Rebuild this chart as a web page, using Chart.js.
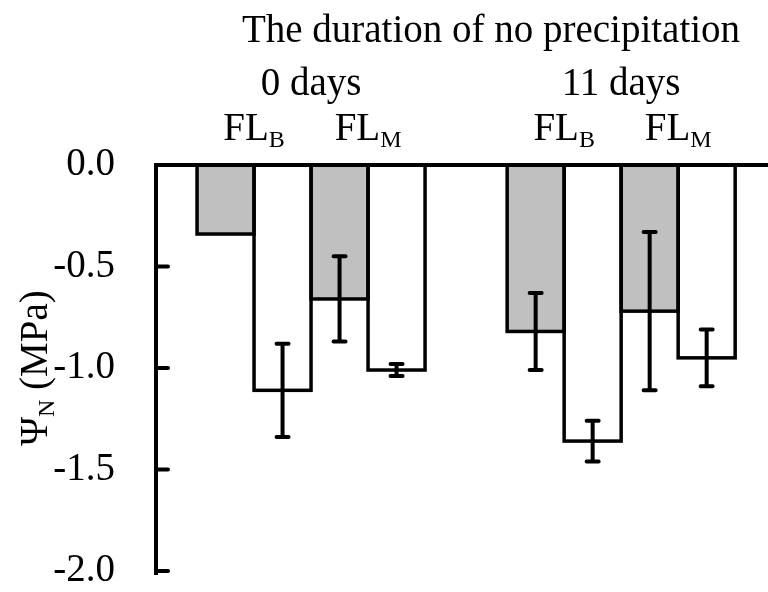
<!DOCTYPE html>
<html>
<head>
<meta charset="utf-8">
<script src="https://cdn.jsdelivr.net/npm/chart.js@4.4.0/dist/chart.umd.min.js"></script>
<style>
  html, body { margin: 0; padding: 0; background: #fff; }
  #chart { display: block; }
</style>
</head>
<body>
<canvas id="chart" width="768" height="592"></canvas>
<script>
// values (MPa)
const title = 'The duration of no precipitation';
const groups = ['0 days', '11 days'];
const treatments = ['B', 'M']; // FL_B, FL_M
const grayValues = [-0.34, -0.66, -0.82, -0.72];
const grayErrors = [0, 0.21, 0.19, 0.39];
const whiteValues = [-1.11, -1.01, -1.36, -0.95];
const whiteErrors = [0.23, 0.03, 0.10, 0.14];
const yTicks = [0, -0.5, -1.0, -1.5, -2.0];

const FONT = '"Liberation Serif", "Times New Roman", serif';
const groupPitch = 2.72; // distance between groups, in pair widths

// x position of each treatment pair
const positions = groups.flatMap((g, gi) => treatments.map((t, ti) => gi * groupPitch + ti));

const toPoints = values => values.map((v, i) => ({ x: positions[i], y: v }));

// text with a subscript, drawn from x (left aligned)
const subWidth = (ctx, main, sub) => {
  ctx.font = `39px ${FONT}`;
  const w1 = ctx.measureText(main).width;
  ctx.font = `24px ${FONT}`;
  return w1 + ctx.measureText(sub).width;
};
const drawSub = (ctx, main, sub, rest, x, y) => {
  ctx.font = `39px ${FONT}`;
  ctx.fillText(main, x, y);
  x += ctx.measureText(main).width;
  ctx.font = `24px ${FONT}`;
  ctx.fillText(sub, x, y + 7);
  x += ctx.measureText(sub).width;
  if (rest) {
    ctx.font = `39px ${FONT}`;
    ctx.fillText(rest, x, y);
  }
};

const decorations = {
  id: 'decorations',
  afterDatasetsDraw(chart) {
    const ctx = chart.ctx;
    const yScale = chart.scales.y;
    const errors = [grayErrors, whiteErrors];
    const values = [grayValues, whiteValues];
    ctx.save();
    ctx.strokeStyle = '#000';
    // bar outlines
    ctx.lineWidth = 3.5;
    chart.data.datasets.forEach((ds, di) => {
      chart.getDatasetMeta(di).data.forEach(el => {
        const top = Math.min(el.y, el.base);
        ctx.strokeRect(el.x - el.width / 2, top, el.width, Math.abs(el.base - el.y));
      });
    });
    // error bars
    ctx.lineWidth = 4;
    ctx.lineCap = 'round';
    chart.data.datasets.forEach((ds, di) => {
      chart.getDatasetMeta(di).data.forEach((el, i) => {
        const e = errors[di][i];
        if (!e) return;
        const y1 = yScale.getPixelForValue(values[di][i] + e);
        const y2 = yScale.getPixelForValue(values[di][i] - e);
        ctx.beginPath();
        ctx.moveTo(el.x, y1); ctx.lineTo(el.x, y2);
        ctx.moveTo(el.x - 6, y1); ctx.lineTo(el.x + 6, y1);
        ctx.moveTo(el.x - 6, y2); ctx.lineTo(el.x + 6, y2);
        ctx.stroke();
      });
    });
    ctx.restore();
  },
  afterDraw(chart) {
    const ctx = chart.ctx;
    const area = chart.chartArea;
    const xScale = chart.scales.x;
    const yScale = chart.scales.y;
    ctx.save();
    ctx.strokeStyle = '#000';
    ctx.fillStyle = '#000';
    // axes: left line and zero line on top
    ctx.lineWidth = 4;
    ctx.lineCap = 'square';
    ctx.beginPath();
    ctx.moveTo(area.right + 2, area.top);
    ctx.lineTo(area.left, area.top);
    ctx.lineTo(area.left, area.bottom + 2);
    ctx.stroke();
    // inward ticks
    ctx.lineCap = 'round';
    yTicks.forEach(v => {
      if (v === 0) return;
      const py = yScale.getPixelForValue(v);
      ctx.beginPath();
      ctx.moveTo(area.left, py);
      ctx.lineTo(area.left + 12, py);
      ctx.stroke();
    });

    // header texts
    ctx.textBaseline = 'alphabetic';
    ctx.textAlign = 'center';
    ctx.font = `39px ${FONT}`;
    ctx.fillText(title, 491, 42);
    groups.forEach((g, gi) => {
      const cx = xScale.getPixelForValue(gi * groupPitch + 0.5);
      ctx.textAlign = 'center';
      ctx.font = `39px ${FONT}`;
      ctx.fillText(g, cx, 95);
      treatments.forEach((t, ti) => {
        const px = xScale.getPixelForValue(positions[gi * treatments.length + ti]);
        const w = subWidth(ctx, 'FL', t);
        ctx.textAlign = 'left';
        drawSub(ctx, 'FL', t, '', px - w / 2, 140);
      });
    });

    // y axis title, rotated
    ctx.translate(47, (area.top + area.bottom) / 2);
    ctx.rotate(-Math.PI / 2);
    ctx.textAlign = 'left';
    ctx.font = `39px ${FONT}`;
    const w1 = ctx.measureText('\u03A8').width;
    ctx.font = `24px ${FONT}`;
    const w2 = ctx.measureText('N').width;
    ctx.font = `39px ${FONT}`;
    const w3 = ctx.measureText(' (MPa)').width;
    drawSub(ctx, '\u03A8', 'N', ' (MPa)', -(w1 + w2 + w3) / 2, 0);
    ctx.restore();
  }
};

new Chart(document.getElementById('chart'), {
  type: 'bar',
  data: {
    datasets: [
      {
        label: 'gray',
        data: toPoints(grayValues),
        backgroundColor: '#c0c0c0',
        borderWidth: 0,
        barThickness: 57
      },
      {
        label: 'white',
        data: toPoints(whiteValues),
        backgroundColor: '#ffffff',
        borderWidth: 0,
        barThickness: 57
      }
    ]
  },
  options: {
    responsive: false,
    animation: false,
    devicePixelRatio: 1,
    layout: { padding: { top: 165, bottom: 21, left: 0, right: 0 } },
    plugins: {
      legend: { display: false },
      tooltip: { enabled: false }
    },
    scales: {
      x: {
        type: 'linear',
        display: false,
        offset: false,
        min: -0.86,
        max: 4.508
      },
      y: {
        min: -2.0,
        max: 0,
        afterFit: scale => {
          scale.width = 156;
          scale.paddingTop = 20;
          scale.paddingBottom = 20;
        },
        afterBuildTicks: scale => { scale.ticks = yTicks.map(v => ({ value: v })); },
        grid: { display: false, drawTicks: false },
        border: { display: false },
        ticks: {
          padding: 41,
          color: '#000',
          font: { family: FONT, size: 39, lineHeight: 1 },
          callback: v => v.toFixed(1)
        }
      }
    }
  },
  plugins: [decorations]
});
</script>
</body>
</html>
